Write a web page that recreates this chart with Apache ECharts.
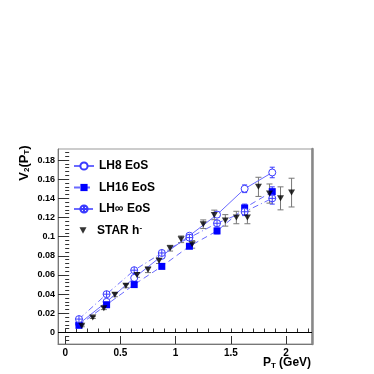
<!DOCTYPE html>
<html><head><meta charset="utf-8">
<script src="https://cdn.jsdelivr.net/npm/echarts@6/dist/echarts.min.js"></script>
<style>html,body{margin:0;padding:0;background:#fff}#c{width:374px;height:374px}</style>
</head><body><div id="c"></div>
<script>
// ---- data ----
const xModel = [0.125, 0.375, 0.625, 0.875, 1.125, 1.375, 1.625, 1.875];
const lh8 = [0.009, 0.032, 0.057, 0.080, 0.101, 0.123, 0.150, 0.167];
const lh8Err = [0.001, 0.001, 0.0015, 0.002, 0.002, 0.003, 0.004, 0.0055];
const lh16 = [0.0075, 0.029, 0.050, 0.069, 0.090, 0.106, 0.130, 0.147];
const lh16Err = [0.001, 0.001, 0.0015, 0.002, 0.002, 0.003, 0.004, 0.005];
const lhInf = [0.014, 0.040, 0.065, 0.083, 0.099, 0.114, 0.126, 0.140];
const lhInfErr = [0.001, 0.001, 0.0015, 0.002, 0.002, 0.003, 0.004, 0.006];
const xStar = [0.15, 0.25, 0.35, 0.45, 0.55, 0.65, 0.75, 0.85, 0.95, 1.05, 1.15, 1.25, 1.35, 1.45, 1.55, 1.65, 1.75, 1.85, 1.95, 2.05];
const star = [0.007, 0.0156, 0.0254, 0.0393, 0.0487, 0.0601, 0.0655, 0.075, 0.088, 0.0973, 0.092, 0.113, 0.1227, 0.117, 0.120, 0.120, 0.152, 0.145, 0.140, 0.146];
const starErr = [0.001, 0.001, 0.0015, 0.002, 0.002, 0.0025, 0.003, 0.003, 0.003, 0.0035, 0.004, 0.0045, 0.005, 0.006, 0.0065, 0.0065, 0.010, 0.010, 0.012, 0.015];
const xTickLabels = [0, 0.5, 1, 1.5, 2];
const yTickLabels = [0, 0.02, 0.04, 0.06, 0.08, 0.1, 0.12, 0.14, 0.16, 0.18];
const seriesNames = ['LH8 EoS', 'LH16 EoS', 'LH\u221e EoS', 'STAR h-'];

// ---- build ----
const pairs = (xs, ys) => xs.map((x, i) => [x, ys[i]]);
const errPairs = (xs, ys, es) => xs.map((x, i) => [x, ys[i], es[i]]);
const xMinor = []; for (let i = 0; i <= 22; i++) xMinor.push(+(i * 0.1).toFixed(2));
const yMinor = []; for (let i = -2; i <= 47; i++) yMinor.push(+(i * 0.004).toFixed(3));
const XMIN = -0.065, XMAX = 2.235, YMIN = -0.012, YMAX = 0.1915;
const FONT = 'Liberation Sans';
const BLUE = '#3a3aff';
const LBLUE = '#6a6aff';
const crossCircle = 'path://M10,1A9,9 0 1 1 9.99,1Z M1,10L19,10 M10,1L10,19';
const downTri = 'path://M0,0L10,0L5,9Z';

function errSeries(data, color, capW) {
  return {
    type: 'custom', silent: true, z: 1,
    data: data,
    renderItem: function (params, api) {
      const x = api.value(0), y = api.value(1), e = api.value(2);
      const top = api.coord([x, y + e]);
      const bot = api.coord([x, y - e]);
      const st = { stroke: color, lineWidth: 1 };
      return { type: 'group', children: [
        { type: 'line', shape: { x1: top[0], y1: top[1], x2: bot[0], y2: bot[1] }, style: st },
        { type: 'line', shape: { x1: top[0] - capW, y1: top[1], x2: top[0] + capW, y2: top[1] }, style: st },
        { type: 'line', shape: { x1: bot[0] - capW, y1: bot[1], x2: bot[0] + capW, y2: bot[1] }, style: st }
      ]};
    }
  };
}

const chart = echarts.init(document.getElementById('c'));
chart.setOption({
  animation: false,
  backgroundColor: '#fff',
  textStyle: { fontFamily: FONT },
  grid: { left: 58, top: 149, width: 254, height: 195, show: true, borderColor: '#999', borderWidth: 1, backgroundColor: '#fff' },
  xAxis: [
    { type: 'value', min: XMIN, max: XMAX, splitLine: { show: false },
      axisLine: { show: true, onZero: false, lineStyle: { color: '#777', width: 1 } },
      axisTick: { show: true, inside: true, length: 8, customValues: xTickLabels, lineStyle: { color: '#333' } },
      axisLabel: { customValues: xTickLabels, margin: 4, color: '#000', fontWeight: 'bold', fontSize: 10, fontFamily: FONT,
        formatter: v => String(+v.toFixed(2)) } },
    { type: 'value', min: XMIN, max: XMAX, position: 'bottom', splitLine: { show: false },
      axisLine: { show: false },
      axisTick: { show: true, inside: true, length: 4, customValues: xMinor, lineStyle: { color: '#333' } },
      axisLabel: { show: false } }
  ],
  yAxis: [
    { type: 'value', min: YMIN, max: YMAX, splitLine: { show: false },
      axisLine: { show: true, onZero: false, lineStyle: { color: '#777', width: 1 } },
      axisTick: { show: true, inside: true, length: 8, customValues: yTickLabels, lineStyle: { color: '#333' } },
      axisLabel: { customValues: yTickLabels, margin: 3, color: '#000', fontWeight: 'bold', fontSize: 9, fontFamily: FONT,
        formatter: v => String(+v.toFixed(3)) } },
    { type: 'value', min: YMIN, max: YMAX, position: 'left', splitLine: { show: false },
      axisLine: { show: false },
      axisTick: { show: true, inside: true, length: 4, customValues: yMinor, lineStyle: { color: '#333' } },
      axisLabel: { show: false } },
    { type: 'value', min: YMIN, max: YMAX, position: 'right', splitLine: { show: false },
      axisLine: { show: true, onZero: false, lineStyle: { color: '#888', width: 2.5 } },
      axisTick: { show: false }, axisLabel: { show: false } }
  ],
  legend: [
    { left: 73, top: 160, padding: 0, orient: 'vertical', itemWidth: 20, itemHeight: 9, itemGap: 9.5,
      data: seriesNames.slice(0, 3),
      textStyle: { fontFamily: FONT, fontWeight: 'bold', fontSize: 12, color: '#000' } },
    { left: 79.5, top: 223.5, padding: 0, orient: 'vertical', itemWidth: 7, itemHeight: 7,
      data: [{ name: seriesNames[3], icon: downTri }],
      formatter: () => 'STAR h{sup|-}',
      textStyle: { fontFamily: FONT, fontWeight: 'bold', fontSize: 12, color: '#000', padding: [0, 0, 0, 5.5],
        rich: { sup: { fontSize: 8, fontWeight: 'bold', verticalAlign: 'top', padding: [0, 0, 6, 0] } } } }
  ],
  graphic: [
    { type: 'text', x: 24, y: 163, rotation: Math.PI / 2, z: 10,
      style: { text: 'V{s|2}(P{s|T})', align: 'center', verticalAlign: 'middle', font: 'bold 13px ' + FONT, fill: '#000',
        rich: { s: { fontSize: 8, fontWeight: 'bold', fontFamily: FONT, padding: [6, 0, 0, 0] } } } },
    { type: 'text', x: 287, y: 363, z: 10,
      style: { text: 'P{s|T} (GeV)', align: 'center', verticalAlign: 'middle', font: 'bold 12px ' + FONT, fill: '#000',
        rich: { s: { fontSize: 8, fontWeight: 'bold', fontFamily: FONT, padding: [6, 0, 0, 0] } } } }
  ],
  series: [
    { name: seriesNames[0], type: 'line', data: pairs(xModel, lh8), symbol: 'circle', symbolSize: 7, z: 3,
      itemStyle: { color: '#fff', borderColor: BLUE, borderWidth: 1 },
      lineStyle: { color: LBLUE, width: 1, type: 'solid' },
      markLine: { silent: true, symbol: 'none', label: { show: false }, lineStyle: { color: '#000', width: 1, type: 'solid' },
        data: [{ yAxis: 0 }] } },
    { name: seriesNames[1], type: 'line', data: pairs(xModel, lh16), symbol: 'rect', symbolSize: 7, z: 3,
      itemStyle: { color: '#0000ff', borderColor: '#0000ff', borderWidth: 0 },
      lineStyle: { color: LBLUE, width: 1, type: [6, 4] } },
    { name: seriesNames[2], type: 'line', data: pairs(xModel, lhInf), symbol: crossCircle, symbolSize: 7, z: 3,
      itemStyle: { color: '#fff', borderColor: BLUE, borderWidth: 1 },
      lineStyle: { color: LBLUE, width: 1, type: [6, 3, 1, 3] } },
    { name: seriesNames[3], type: 'scatter', data: pairs(xStar, star), symbol: downTri, symbolSize: [7, 6], z: 4,
      itemStyle: { color: '#000' } },
    errSeries(errPairs(xModel, lh8, lh8Err), BLUE, 2.5),
    errSeries(errPairs(xModel, lh16, lh16Err), BLUE, 2.5),
    errSeries(errPairs(xModel, lhInf, lhInfErr), BLUE, 2.5),
    errSeries(errPairs(xStar, star, starErr), '#777', 3)
  ]
});
</script></body></html>
